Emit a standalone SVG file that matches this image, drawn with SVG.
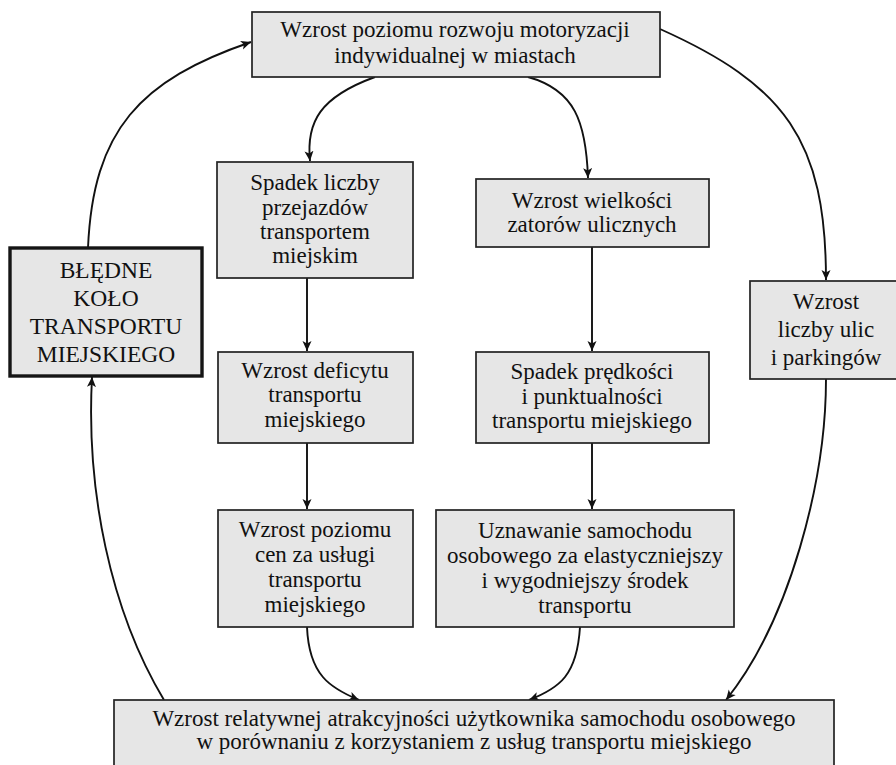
<svg xmlns="http://www.w3.org/2000/svg" width="896" height="765" viewBox="0 0 896 765">
  <defs>
    <marker id="arrow" viewBox="0 0 10 10" refX="10" refY="5" markerWidth="10" markerHeight="10" markerUnits="userSpaceOnUse" orient="auto">
      <path d="M0,0.5 L10,5 L0,9.5 L2.5,5 Z" fill="#111"/>
    </marker>
  </defs>
  <style>
    .box { fill: #e6e6e6; stroke: #222; stroke-width: 1.7; }
    .box-main { fill: #e6e6e6; stroke: #151515; stroke-width: 3.4; }
    .label { font-family: "Liberation Serif", "Times New Roman", serif; font-size: 23px; fill: #111; text-anchor: middle; }
    .label-main { font-size: 23.5px; }
    .edge { fill: none; stroke: #111; stroke-width: 1.9; marker-end: url(#arrow); }
  </style>
  <rect width="896" height="765" fill="#ffffff"/>

  <g id="connectors">
    <path class="edge" d="M375,77 C320,97 306,122 310,161"/>
    <path class="edge" d="M528,77 C575,90 586,122 588,178"/>
    <path class="edge" d="M660,29 C785,85 826,140 826,280"/>
    <path class="edge" d="M88,248 C93,130 140,80 251,42"/>
    <path class="edge" d="M307,278 L307,351"/>
    <path class="edge" d="M307,443 L307,509"/>
    <path class="edge" d="M592,247 L592,351"/>
    <path class="edge" d="M592,443 L592,509"/>
    <path class="edge" d="M307,627 C309,675 330,688 359,700"/>
    <path class="edge" d="M580,627 C577,675 560,688 529,700"/>
    <path class="edge" d="M826,379 C826,480 790,620 726,700"/>
    <path class="edge" d="M164,700 C110,610 86,490 92,377"/>
  </g>

  <g id="node-motoryzacja">
    <rect class="box" x="252" y="12" width="408" height="65"/>
    <text class="label" x="455" y="37">Wzrost poziomu rozwoju motoryzacji</text>
    <text class="label" x="455" y="63">indywidualnej w miastach</text>
  </g>

  <g id="node-bledne-kolo">
    <rect class="box-main" x="10" y="248" width="192" height="128"/>
    <text class="label label-main" x="106" y="278">BŁĘDNE</text>
    <text class="label label-main" x="106" y="306">KOŁO</text>
    <text class="label label-main" x="106" y="334">TRANSPORTU</text>
    <text class="label label-main" x="106" y="362">MIEJSKIEGO</text>
  </g>

  <g id="node-przejazdy">
    <rect class="box" x="217" y="162" width="196" height="116"/>
    <text class="label" x="315" y="190">Spadek liczby</text>
    <text class="label" x="315" y="215">przejazdów</text>
    <text class="label" x="315" y="239">transportem</text>
    <text class="label" x="315" y="263">miejskim</text>
  </g>

  <g id="node-zatory">
    <rect class="box" x="476" y="179" width="233" height="68"/>
    <text class="label" x="592" y="208">Wzrost wielkości</text>
    <text class="label" x="592" y="232">zatorów ulicznych</text>
  </g>

  <g id="node-ulice">
    <rect class="box" x="750" y="281" width="153" height="98"/>
    <text class="label" x="826" y="309">Wzrost</text>
    <text class="label" x="826" y="337">liczby ulic</text>
    <text class="label" x="826" y="365">i parkingów</text>
  </g>

  <g id="node-deficyt">
    <rect class="box" x="218" y="352" width="195" height="91"/>
    <text class="label" x="315" y="378">Wzrost deficytu</text>
    <text class="label" x="315" y="402">transportu</text>
    <text class="label" x="315" y="427">miejskiego</text>
  </g>

  <g id="node-predkosc">
    <rect class="box" x="476" y="352" width="233" height="91"/>
    <text class="label" x="592" y="379">Spadek prędkości</text>
    <text class="label" x="592" y="404">i punktualności</text>
    <text class="label" x="592" y="428">transportu miejskiego</text>
  </g>

  <g id="node-ceny">
    <rect class="box" x="218" y="510" width="195" height="117"/>
    <text class="label" x="315" y="537">Wzrost poziomu</text>
    <text class="label" x="315" y="562">cen za usługi</text>
    <text class="label" x="315" y="587">transportu</text>
    <text class="label" x="315" y="612">miejskiego</text>
  </g>

  <g id="node-samochod">
    <rect class="box" x="436" y="510" width="298" height="117"/>
    <text class="label" x="585" y="538">Uznawanie samochodu</text>
    <text class="label" x="585" y="563">osobowego za elastyczniejszy</text>
    <text class="label" x="585" y="588">i wygodniejszy środek</text>
    <text class="label" x="585" y="613">transportu</text>
  </g>

  <g id="node-atrakcyjnosc">
    <rect class="box" x="114" y="700" width="720" height="70"/>
    <text class="label" x="474" y="726">Wzrost relatywnej atrakcyjności użytkownika samochodu osobowego</text>
    <text class="label" x="474" y="749">w porównaniu z korzystaniem z usług transportu miejskiego</text>
  </g>
</svg>
